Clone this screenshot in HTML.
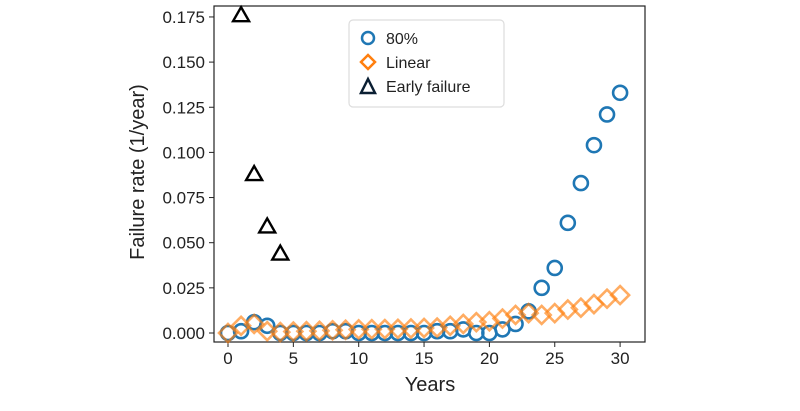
<!DOCTYPE html>
<html><head><style>
html,body{margin:0;padding:0;background:#fff;}
svg{display:block;font-family:"Liberation Sans",sans-serif;}
</style></head><body>
<svg id="s" width="800" height="411" viewBox="0 0 800 411" xmlns="http://www.w3.org/2000/svg">
<rect x="214" y="6" width="431" height="336" fill="none" stroke="#222" stroke-width="1.2"/>
<g id="ticks" font-size="17" fill="#222"></g>
<text x="430" y="391" font-size="20" text-anchor="middle" fill="#222">Years</text>
<text transform="translate(144,172) rotate(-90)" font-size="20" text-anchor="middle" fill="#222">Failure rate (1/year)</text>
<g id="data"></g>
<rect x="349" y="20" width="155" height="87" rx="4" fill="#fff" fill-opacity="0.85" stroke="#ddd" stroke-width="1.2"/>
<circle cx="368" cy="38" r="6" fill="none" stroke="#1f77b4" stroke-width="2.5"/>
<text x="386" y="44" font-size="16" fill="#222">80%</text>
<path d="M368,55 L375,62 L368,69 L361,62 Z" fill="none" stroke="#ff7f0e" stroke-width="2.5"/>
<text x="386" y="68" font-size="16" fill="#222">Linear</text>
<path d="M368,79 L375,93 L361,93 Z" fill="none" stroke="#0b1f33" stroke-width="2.5"/>
<text x="386" y="92" font-size="16" fill="#222">Early failure</text>
</svg>
<script>
const NS="http://www.w3.org/2000/svg";
const X=t=>228+t*13.07, Y=v=>333-v*1806;
const tk=document.getElementById('ticks'), d=document.getElementById('data');
function el(tag,a,p){const e=document.createElementNS(NS,tag);for(const k in a)e.setAttribute(k,a[k]);(p||d).appendChild(e);return e;}
for(let t=0;t<=30;t+=5){el('line',{x1:X(t),x2:X(t),y1:342,y2:347,stroke:'#222'},tk);const e=el('text',{x:X(t),y:364,'text-anchor':'middle'},tk);e.textContent=t;}
for(let i=0;i<=7;i++){const v=i*0.025;el('line',{x1:209,x2:214,y1:Y(v),y2:Y(v),stroke:'#222'},tk);const e=el('text',{x:205,y:Y(v)+6,'text-anchor':'end'},tk);e.textContent=v.toFixed(3);}
const c=[0,0.001,0.006,0.004,0,0,0,0,0.001,0.001,0,0,0,0,0,0,0.001,0.001,0.002,0,0,0.002,0.005,0.012,0.025,0.036,0.061,0.083,0.104,0.121,0.133];
c.forEach((v,t)=>el('circle',{cx:X(t),cy:Y(v),r:7,fill:'none',stroke:'#1f77b4','stroke-width':2.6}));
const l=[0,0.004,0.005,0.001,0.0005,0.0008,0.001,0.0012,0.0015,0.0018,0.002,0.0021,0.0022,0.0023,0.0025,0.0028,0.003,0.004,0.005,0.006,0.0065,0.008,0.010,0.011,0.010,0.011,0.013,0.014,0.016,0.019,0.021];
l.forEach((v,t)=>{const x=X(t),y=Y(v);el('path',{d:`M${x},${y-9}L${x+9},${y}L${x},${y+9}L${x-9},${y}Z`,fill:'none',stroke:'#ff7f0e','stroke-opacity':0.65,'stroke-width':2.6});});
[[1,0.176],[2,0.088],[3,0.059],[4,0.044]].forEach(([t,v])=>{const x=X(t),y=Y(v);el('path',{d:`M${x},${y-8}L${x+8},${y+6}L${x-8},${y+6}Z`,fill:'none',stroke:'#000','stroke-width':2.4});});
</script>
</body></html>
